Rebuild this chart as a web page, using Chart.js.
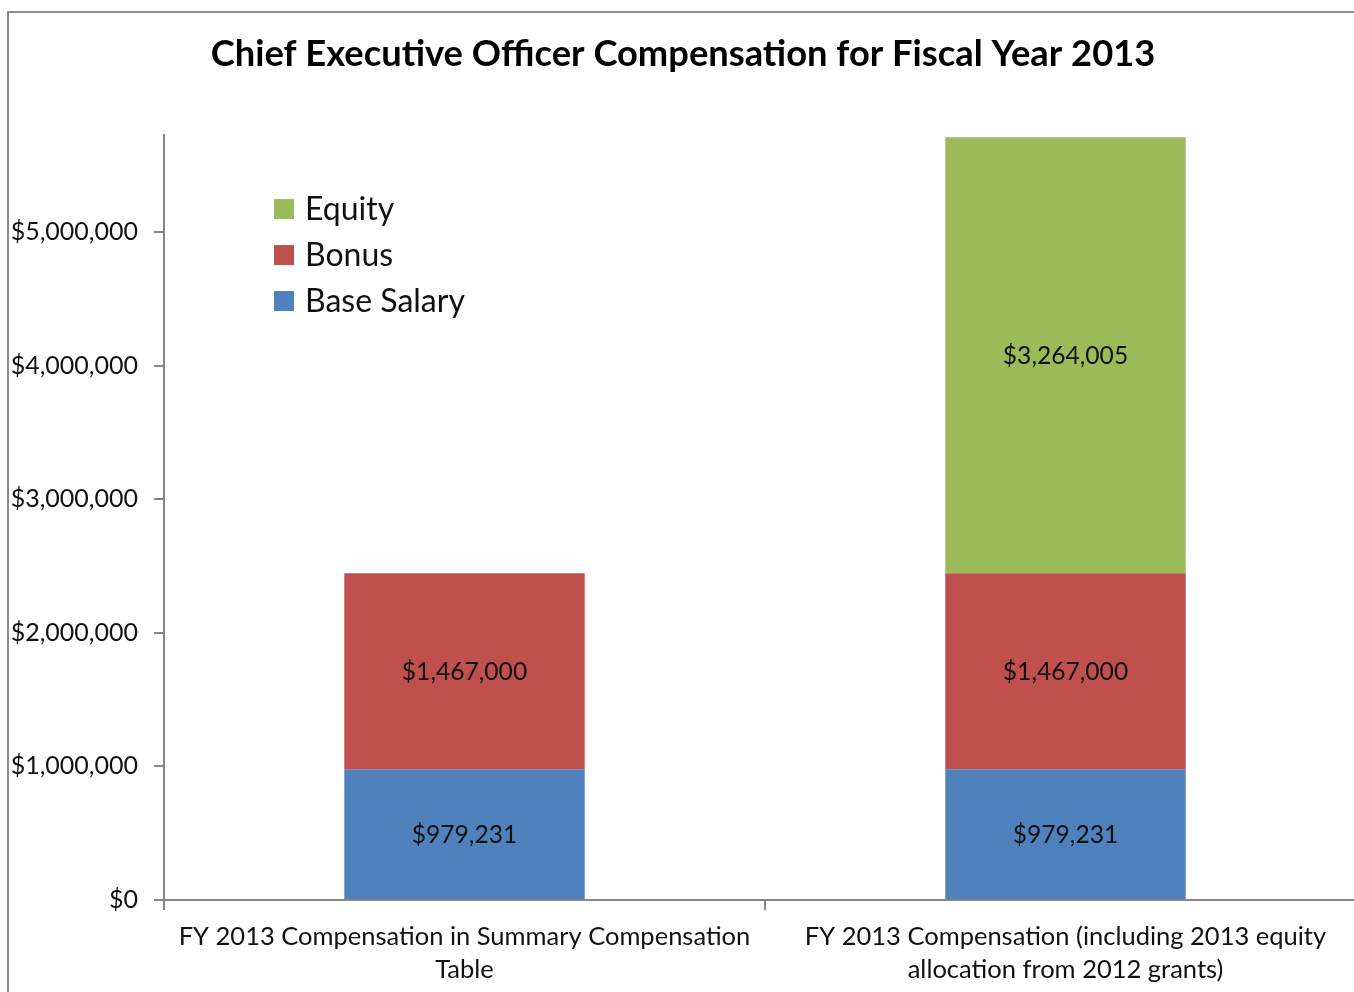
<!DOCTYPE html>
<html>
<head>
<meta charset="utf-8">
<script src="https://cdn.jsdelivr.net/npm/chart.js@4/dist/chart.umd.min.js"></script>
<style>
  html, body { margin: 0; padding: 0; background: #fff; overflow: hidden; }
  #frame { position: absolute; left: 7px; top: 11px; width: 1420px; height: 1100px; border: 2px solid #8a8a8a; box-sizing: border-box; }
  #wrap { position: absolute; left: 0; top: 0; width: 1380px; height: 1010px; }
</style>
</head>
<body>
<div id="frame"></div>
<div id="wrap"><canvas id="c"></canvas></div>
<script>
const categories = [
  ["FY 2013 Compensation in Summary Compensation", "Table"],
  ["FY 2013 Compensation (including 2013 equity", "allocation from 2012 grants)"]
];
const baseSalary = [979231, 979231];
const bonus = [1467000, 1467000];
const equity = [0, 3264005];
const yTicks = [0, 1000000, 2000000, 3000000, 4000000, 5000000];
const titleText = "Chief Executive Officer Compensation for Fiscal Year 2013";

const FONT = "Lato, 'Open Sans', sans-serif";
const AXIS = "#868686";
const fmt = v => "$" + Math.round(v).toLocaleString("en-US");

const dataLabels = {
  id: "dataLabels",
  afterDatasetsDraw(chart) {
    const ctx = chart.ctx;
    ctx.save();
    ctx.font = "24.6px " + FONT;
    ctx.fillStyle = "#111";
    ctx.textAlign = "center";
    ctx.textBaseline = "middle";
    chart.data.datasets.forEach((ds, i) => {
      const meta = chart.getDatasetMeta(i);
      meta.data.forEach((bar, j) => {
        const v = ds.data[j];
        if (!v) return;
        ctx.fillText(fmt(v), bar.x, (bar.y + bar.base) / 2 + 1);
      });
    });
    ctx.restore();
  }
};

const innerLegend = {
  id: "innerLegend",
  afterDraw(chart) {
    const ctx = chart.ctx;
    const ca = chart.chartArea;
    const x0 = ca.left + 110, y0 = ca.top + 74, step = 46, box = 20;
    ctx.save();
    ctx.font = "32px " + FONT;
    ctx.textBaseline = "middle";
    ctx.textAlign = "left";
    const items = chart.data.datasets.map(d => d).reverse();
    items.forEach((ds, k) => {
      const y = y0 + k * step;
      ctx.fillStyle = ds.backgroundColor;
      ctx.fillRect(x0, y - box / 2, box, box);
      ctx.fillStyle = "#111";
      ctx.fillText(ds.label, x0 + 31, y + 1);
    });
    ctx.restore();
  }
};

new Chart(document.getElementById("c"), {
  type: "bar",
  data: {
    labels: categories,
    datasets: [
      { label: "Base Salary", data: baseSalary, backgroundColor: "#4F81BD" },
      { label: "Bonus", data: bonus, backgroundColor: "#C0504D" },
      { label: "Equity", data: equity, backgroundColor: "#9BBB59" }
    ]
  },
  options: {
    responsive: true,
    maintainAspectRatio: false,
    animation: false,
    layout: { padding: { left: 0, right: 14, top: 0, bottom: 0 } },
    datasets: { bar: { categoryPercentage: 1.0, barPercentage: 0.4 } },
    plugins: {
      legend: { display: false },
      tooltip: { enabled: false },
      title: {
        display: true,
        text: titleText,
        color: "#000",
        font: { family: FONT, size: 36.3, weight: "bold", lineHeight: 1.2 },
        padding: { top: 33, bottom: 58.5 }
      }
    },
    scales: {
      x: {
        stacked: true,
        grid: { drawOnChartArea: false, drawTicks: true, tickLength: 10, color: AXIS, lineWidth: 2 },
        border: { color: AXIS, width: 2 },
        ticks: { color: "#111", font: { family: FONT, size: 25.5, lineHeight: 1.3 }, padding: 10, maxRotation: 0, autoSkip: false },
        afterFit(scale) { scale.height = 110; }
      },
      y: {
        stacked: true,
        min: 0,
        max: 5726000,
        afterBuildTicks(scale) { scale.ticks = yTicks.map(v => ({ value: v })); },
        grid: { drawOnChartArea: false, drawTicks: true, tickLength: 10, color: AXIS, lineWidth: 2 },
        border: { color: AXIS, width: 2 },
        ticks: { color: "#111", font: { family: FONT, size: 25 }, padding: 16, callback: v => fmt(v) },
        afterFit(scale) { scale.width = 164; }
      }
    }
  },
  plugins: [dataLabels, innerLegend]
});
</script>
</body>
</html>
